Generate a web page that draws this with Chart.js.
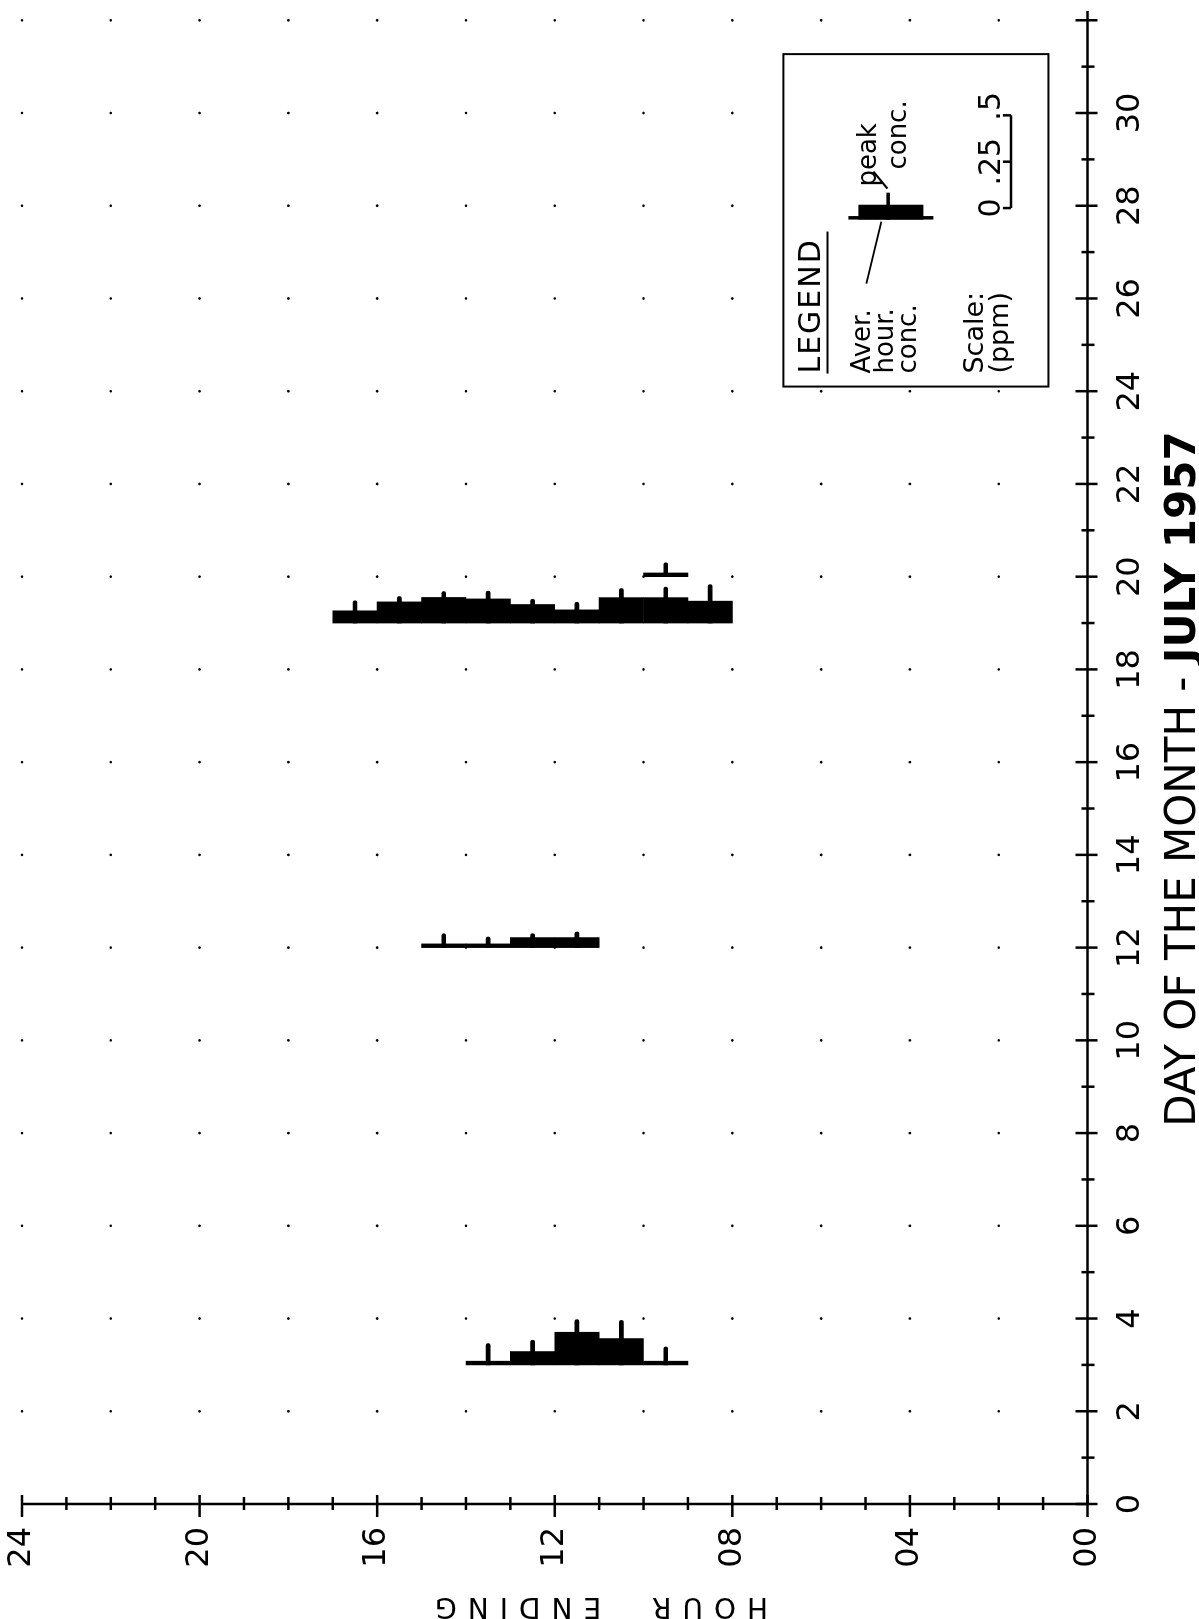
<!DOCTYPE html>
<html>
<head>
<meta charset="utf-8">
<title>Hourly concentration - July 1957</title>
<script src="https://cdn.jsdelivr.net/npm/chart.js@4.4.1/dist/chart.umd.min.js"></script>
<style>
  html, body { margin: 0; padding: 0; background: #fff; overflow: hidden; }
  body { width: 1199px; height: 1619px; position: relative; }
  /* the chart is drawn landscape, then turned a quarter turn like the scan */
  #wrap { position: absolute; left: 0; top: 0; width: 1619px; height: 1199px;
          transform-origin: 0 0; transform: translateY(1619px) rotate(-90deg); }
</style>
</head>
<body>
<div id="wrap"><canvas id="chart" width="1619" height="1199"></canvas></div>
<script>
// ---------------------------------------------
// data: hour ending, average hour conc, peak conc (ppm)
// ---------------------------------------------
const day3Hours = [10, 11, 12, 13, 14];
const day3Avg   = [0.02, 0.142, 0.176, 0.072, 0.02];
const day3Peak  = [0.097, 0.24, 0.244, 0.133, 0.115];

const day12Hours = [12, 13, 14, 15];
const day12Avg   = [0.054, 0.054, 0.02, 0.02];
const day12Peak  = [0.084, 0.075, 0.057, 0.075];

const day19Hours = [9, 10, 11, 12, 13, 14, 15, 16, 17];
const day19Avg   = [0.118, 0.137, 0.137, 0.071, 0.10, 0.13, 0.138, 0.114, 0.066];
const day19Peak  = [0.207, 0.194, 0.186, 0.112, 0.128, 0.172, 0.17, 0.143, 0.12];

const day20Hours = [10];
const day20Avg   = [0.02];
const day20Peak  = [0.075];

const days = [3, 12, 19, 20];
const hoursPerDay = [day3Hours, day12Hours, day19Hours, day20Hours];
const avgPerDay = [day3Avg, day12Avg, day19Avg, day20Avg];
const peakPerDay = [day3Peak, day12Peak, day19Peak, day20Peak];

// axis labels
const hourLabels = ['00', '04', '08', '12', '16', '20', '24'];
const dayLabels = [0, 2, 4, 6, 8, 10, 12, 14, 16, 18, 20, 22, 24, 26, 28, 30];

// legend scale: 0.5 ppm is drawn as two day-widths
const PPM_PER_DAY = 0.25;
const scaleMarks = [0, 0.25, 0.5];
const scaleMarkText = ['0', '.25', '.5'];

const INK = '#000';
const FONT = "'DejaVu Sans', 'Liberation Sans', sans-serif";

// ---------------------------------------------
// datasets (floating horizontal bars from the day line)
// ---------------------------------------------
function hourBars(day, hours, values, thin) {
    const ds = {
        data: hours.map((h, i) => ({ y: h - 0.5, x: [day, day + values[i] / PPM_PER_DAY] })),
        backgroundColor: INK,
        borderWidth: 0,
        grouped: false,
        barPercentage: 1,
        categoryPercentage: 1
    };
    if (thin) { ds.barThickness = 4; ds.borderRadius = 2; }
    return ds;
}

const datasets = [];
days.forEach((d, i) => {
    datasets.push(hourBars(d, hoursPerDay[i], avgPerDay[i], false));
    datasets.push(hourBars(d, hoursPerDay[i], peakPerDay[i], true));
});

// ---------------------------------------------
// plugin: axes, tick marks, dot grid, legend, titles
// ---------------------------------------------
function line(ctx, x1, y1, x2, y2) {
    ctx.beginPath();
    ctx.moveTo(x1, y1);
    ctx.lineTo(x2, y2);
    ctx.stroke();
}

// keep the plot area fixed: no extra room for half labels
function fixBox(size) {
    return s => {
        if (s.isHorizontal()) s.height = size; else s.width = size;
        s.paddingTop = s.paddingBottom = s.paddingLeft = s.paddingRight = 0;
    };
}

const scanPlugin = {
    id: 'scan',
    beforeDatasetsDraw(chart) {
        const { ctx, scales: { x, y } } = chart;
        ctx.save();
        ctx.fillStyle = INK;
        for (let d = 2; d <= 32; d += 2) {
            for (let h = 2; h <= 24; h += 2) {
                ctx.beginPath();
                ctx.arc(x.getPixelForValue(d), y.getPixelForValue(h), 1.3, 0, Math.PI * 2);
                ctx.fill();
            }
        }
        ctx.restore();
    },
    afterDatasetsDraw(chart) {
        const { ctx, scales: { x, y } } = chart;
        const x0 = x.getPixelForValue(0);
        const y0 = y.getPixelForValue(0);
        ctx.save();
        ctx.strokeStyle = INK;
        ctx.lineWidth = 2.5;
        ctx.lineCap = 'butt';

        // axis lines
        line(ctx, x0, y0, x.getPixelForValue(32.2), y0);
        line(ctx, x0, y0, x0, y.getPixelForValue(24));

        // day ticks (cross the axis)
        for (let d = 0; d <= 32; d++) {
            const px = x.getPixelForValue(d);
            const even = d % 2 === 0;
            line(ctx, px, y0 - (even ? 12 : 6), px, y0 + (even ? 10 : 7));
        }
        // hour ticks
        for (let h = 0; h <= 24; h++) {
            const py = y.getPixelForValue(h);
            const major = h % 4 === 0;
            line(ctx, x0 - (major ? 13 : 6), py, x0 + (major ? 9 : 7), py);
        }

        // legend box
        const bx = x.getPixelForValue(24.1), bx2 = x.getPixelForValue(31.27);
        const by = y.getPixelForValue(6.85), by2 = y.getPixelForValue(0.88);
        ctx.fillStyle = '#fff';
        ctx.fillRect(bx, by, bx2 - bx, by2 - by);
        ctx.lineWidth = 2;
        ctx.strokeRect(bx, by, bx2 - bx, by2 - by);

        ctx.fillStyle = INK;
        ctx.textBaseline = 'alphabetic';
        ctx.textAlign = 'left';
        ctx.font = `30px ${FONT}`;
        ctx.letterSpacing = '2px';
        ctx.fillText('LEGEND', bx + 13, by + 37);
        ctx.letterSpacing = '0px';
        ctx.lineWidth = 2;
        line(ctx, bx + 13, by + 44, bx + 155, by + 44);

        ctx.font = `26px ${FONT}`;
        ctx.fillText('Aver.', bx + 13, by + 87);
        ctx.fillText('hour.', bx + 13, by + 110);
        ctx.fillText('conc.', bx + 13, by + 133);
        ctx.font = `27px ${FONT}`;
        ctx.fillText('Scale:', bx + 13, by + 200);
        ctx.fillText('(ppm)', bx + 13, by + 225);

        // legend glyph: baseline, average bar and peak tick
        const gx = bx + 167;
        const ppmPx = v => x.getPixelForValue(v / PPM_PER_DAY) - x0;
        ctx.fillRect(gx, by + 65, 3.5, 85);
        ctx.fillRect(gx, by + 75, ppmPx(0.08), 65);
        ctx.fillRect(gx, by + 103, ppmPx(0.145), 3.5);
        ctx.lineWidth = 2;
        line(ctx, gx + 31, by + 104, gx + 48, by + 90);
        line(ctx, gx - 2, by + 98, gx - 64, by + 83);

        ctx.font = `26px ${FONT}`;
        ctx.fillText('peak', bx + 200, by + 93);
        ctx.fillText('conc.', bx + 217, by + 123);

        // legend scale bracket
        const sx = bx + 178.5, sy = by + 227.5;
        ctx.lineWidth = 2.5;
        line(ctx, sx, sy, sx + ppmPx(0.5), sy);
        ctx.font = `30px ${FONT}`;
        ctx.textAlign = 'center';
        scaleMarks.forEach((m, i) => {
            const px = sx + ppmPx(m);
            line(ctx, px, sy, px, sy - 8);
            ctx.fillText(scaleMarkText[i], px + (i === 2 ? 9 : 0), by + 217);
        });
        ctx.restore();
    },
    afterDraw(chart) {
        const { ctx } = chart;
        ctx.save();
        ctx.fillStyle = INK;
        ctx.textBaseline = 'alphabetic';
        ctx.textAlign = 'left';

        // x title, "JULY 1957" heavier
        const part1 = 'DAY OF THE MONTH - ';
        const part2 = 'JULY 1957';
        ctx.font = `42px ${FONT}`;
        const w1 = ctx.measureText(part1).width;
        ctx.font = `bold 42px ${FONT}`;
        const w2 = ctx.measureText(part2).width;
        const start = 840 - (w1 + w2) / 2;
        ctx.font = `42px ${FONT}`;
        ctx.fillText(part1, start, 1195);
        ctx.font = `bold 42px ${FONT}`;
        ctx.fillText(part2, start + w1, 1195);

        // y title
        ctx.translate(21, 596);
        ctx.rotate(-Math.PI / 2);
        ctx.font = `28px ${FONT}`;
        ctx.letterSpacing = '11px';
        ctx.textAlign = 'center';
        ctx.fillText('HOUR  ENDING', 0, 0);
        ctx.restore();
    }
};

// ---------------------------------------------
// chart
// ---------------------------------------------
new Chart(document.getElementById('chart').getContext('2d'), {
    type: 'bar',
    data: { datasets },
    options: {
        indexAxis: 'y',
        responsive: false,
        animation: false,
        layout: { padding: { top: 22, right: 11, left: 0, bottom: 0 } },
        plugins: {
            legend: { display: false },
            tooltip: { enabled: false }
        },
        scales: {
            x: {
                type: 'linear',
                min: 0,
                max: 32.2,
                grid: { display: false, drawTicks: false },
                border: { display: false },
                ticks: {
                    stepSize: 1,
                    includeBounds: false,
                    autoSkip: false,
                    maxRotation: 0,
                    padding: 24,
                    color: INK,
                    font: { family: FONT, size: 32 },
                    callback: v => dayLabels.includes(v) ? String(v) : ''
                },
                afterFit: fixBox(111.5)
            },
            y: {
                type: 'linear',
                min: 0,
                max: 24,
                offset: false,
                grid: { display: false, drawTicks: false, offset: false },
                border: { display: false },
                ticks: {
                    stepSize: 1,
                    autoSkip: false,
                    padding: 23,
                    color: INK,
                    font: { family: FONT, size: 32 },
                    callback: v => v % 4 === 0 ? hourLabels[v / 4] : ''
                },
                afterFit: fixBox(115)
            }
        }
    },
    plugins: [scanPlugin]
});
</script>
</body>
</html>
